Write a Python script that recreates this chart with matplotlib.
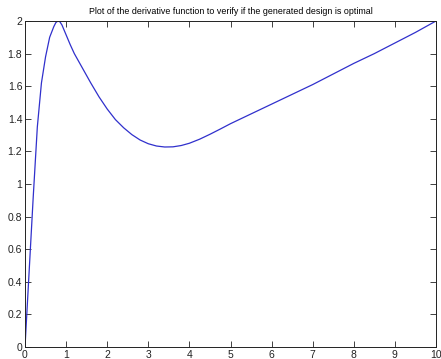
import numpy as np
import matplotlib
matplotlib.use("Agg")
from matplotlib import pyplot as plt

# values
x_vals = [0, 0.1, 0.2, 0.3, 0.4, 0.5, 0.6, 0.7, 0.75, 0.8, 0.85, 0.9, 1.0, 1.1,
          1.2, 1.4, 1.6, 1.8, 2.0, 2.2, 2.4, 2.6, 2.8, 3.0, 3.2, 3.4, 3.6, 3.8,
          4.0, 4.25, 4.5, 4.75, 5.0, 5.5, 6.0, 6.5, 7.0, 7.5, 8.0, 8.5, 9.0,
          9.5, 10.0]
y_vals = [0, 0.46, 0.92, 1.35, 1.62, 1.78, 1.90, 1.965, 1.99, 2.0, 1.995, 1.975,
          1.915, 1.855, 1.80, 1.71, 1.62, 1.535, 1.46, 1.395, 1.345, 1.303, 1.27,
          1.247, 1.233, 1.227, 1.228, 1.236, 1.25, 1.275, 1.305, 1.337, 1.37,
          1.43, 1.49, 1.55, 1.61, 1.675, 1.74, 1.80, 1.865, 1.93, 2.0]
x_ticks = list(range(0, 11))
y_ticks = [0, 0.2, 0.4, 0.6, 0.8, 1, 1.2, 1.4, 1.6, 1.8, 2]
y_labels = ["0", "0.2", "0.4", "0.6", "0.8", "1", "1.2", "1.4", "1.6", "1.8", "2"]
title = "Plot of the derivative function to verify if the generated design is optimal"

plt.rcParams['font.family'] = ['Liberation Sans', 'DejaVu Sans']

fig = plt.figure(figsize=(4.41, 3.59), dpi=100)
ax = fig.add_axes([25 / 441, 12 / 359, 411 / 441, 326 / 359])
ax.plot(x_vals, y_vals, color="#3030cc", linewidth=0.9)
ax.set_xlim(0, 10)
ax.set_ylim(0, 2)
ax.set_xticks(x_ticks)
ax.set_yticks(y_ticks)
ax.set_yticklabels(y_labels)
ax.tick_params(direction="in", top=True, right=True, length=4, width=0.6,
               labelsize=7.5, pad=2, colors="#222222")
for s in ax.spines.values():
    s.set_linewidth(0.7)
    s.set_color("#222222")
ax.set_title(title, fontsize=6.4, pad=5)
fig.savefig("out.png", dpi=100)
